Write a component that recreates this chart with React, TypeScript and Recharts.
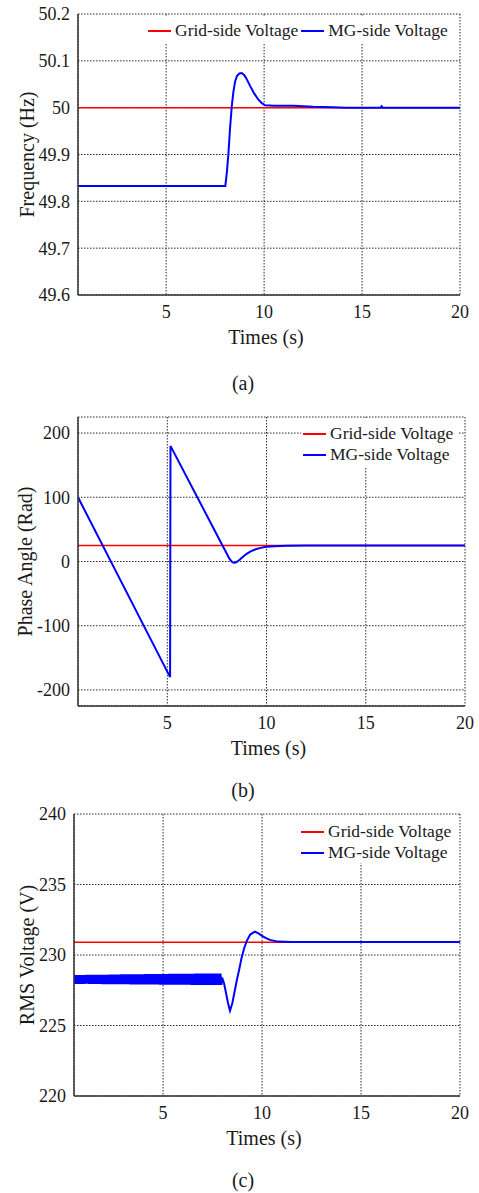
import React from 'react';
import { LineChart, Line, XAxis, YAxis, CartesianGrid, Legend, Label } from 'recharts';

const FONT = '"Liberation Serif", "Times New Roman", serif';
const INK = '#1a1a1a';

// shared time axis
const timeDomain = [0.5, 20];
const timeTicks = [5, 10, 15, 20];
const gridTime = [0.5, 20];

// (a) frequency
const freqTicks = [49.6, 49.7, 49.8, 49.9, 50, 50.1, 50.2];
const freqGrid = [50, 50];
const freqTime = [0.5, 8.02, 8.1, 8.18, 8.26, 8.35, 8.43, 8.52, 8.62, 8.74, 8.86, 8.98, 9.1, 9.29, 9.5, 9.71, 9.9, 10.05, 10.5, 11.5, 12.5, 13.5, 14.2, 15.95, 16.0, 16.05, 20];
const freqMG = [49.833, 49.833, 49.862, 49.903, 49.955, 50.003, 50.033, 50.056, 50.068, 50.073, 50.074, 50.07, 50.062, 50.046, 50.03, 50.017, 50.009, 50.005, 50.004, 50.004, 50.002, 50.001, 50, 50, 50.003, 50, 50];

// (b) phase angle
const angleTicks = [-200, -100, 0, 100, 200];
const angleGrid = [25, 25];
const angleTime = [0.5, 5.14, 5.16, 7.78, 8.0, 8.1, 8.2, 8.28, 8.35, 8.45, 8.6, 8.8, 9.0, 9.2, 9.45, 9.7, 10.0, 10.4, 11, 12, 13, 20];
const angleMG = [100, -180, 180, 25, 12, 6, 1.5, -1, -2, -1.5, 1.5, 7, 12, 15.8, 19, 21.2, 22.8, 23.8, 24.4, 24.8, 25, 25];

// (c) rms voltage
const rmsTicks = [220, 225, 230, 235, 240];
const rmsGrid = [230.9, 230.9];
const rippleTime = [
  0.5, 0.6, 0.7, 0.8, 0.9, 1.0, 1.1, 1.2, 1.3, 1.4, 1.5, 1.6, 1.7, 1.8, 1.9,
  2.0, 2.1, 2.2, 2.3, 2.4, 2.5, 2.6, 2.7, 2.8, 2.9, 3.0, 3.1, 3.2, 3.3, 3.4,
  3.5, 3.6, 3.7, 3.8, 3.9, 4.0, 4.1, 4.2, 4.3, 4.4, 4.5, 4.6, 4.7, 4.8, 4.9,
  5.0, 5.1, 5.2, 5.3, 5.4, 5.5, 5.6, 5.7, 5.8, 5.9, 6.0, 6.1, 6.2, 6.3, 6.4,
  6.5, 6.6, 6.7, 6.8, 6.9, 7.0, 7.1, 7.2, 7.3, 7.4, 7.5, 7.6, 7.7, 7.8, 7.9,
];
const rippleHigh = [
  228.58, 228.58, 228.58, 228.58, 228.58, 228.58, 228.59, 228.59, 228.59, 228.59, 228.59, 228.59, 228.6, 228.6, 228.6,
  228.6, 228.6, 228.6, 228.61, 228.61, 228.61, 228.61, 228.61, 228.61, 228.62, 228.62, 228.62, 228.62, 228.62, 228.62,
  228.63, 228.63, 228.63, 228.63, 228.63, 228.63, 228.64, 228.64, 228.64, 228.64, 228.64, 228.64, 228.65, 228.65, 228.65,
  228.65, 228.65, 228.65, 228.66, 228.66, 228.66, 228.66, 228.66, 228.66, 228.67, 228.67, 228.67, 228.67, 228.67, 228.67,
  228.67, 228.68, 228.68, 228.68, 228.68, 228.68, 228.68, 228.68, 228.69, 228.69, 228.69, 228.69, 228.69, 228.69, 228.69,
];
const rippleLow = [
  227.96, 227.96, 227.96, 227.96, 227.96, 227.96, 227.96, 227.95, 227.95, 227.95, 227.95, 227.95, 227.95, 227.95, 227.94,
  227.94, 227.94, 227.94, 227.94, 227.94, 227.94, 227.93, 227.93, 227.93, 227.93, 227.93, 227.93, 227.93, 227.92, 227.92,
  227.92, 227.92, 227.92, 227.92, 227.92, 227.91, 227.91, 227.91, 227.91, 227.91, 227.91, 227.91, 227.91, 227.9, 227.9,
  227.9, 227.9, 227.9, 227.9, 227.9, 227.9, 227.89, 227.89, 227.89, 227.89, 227.89, 227.89, 227.89, 227.89, 227.88,
  227.88, 227.88, 227.88, 227.88, 227.88, 227.88, 227.88, 227.87, 227.87, 227.87, 227.87, 227.87, 227.87, 227.87, 227.87,
];
const rmsTime = [7.98, 8.08, 8.18, 8.28, 8.38, 8.5, 8.6, 8.72, 8.85, 8.97, 9.1, 9.23, 9.4, 9.64, 9.8, 9.98, 10.2, 10.4, 10.8, 11.5, 20];
const rmsMG = [228.4, 228.0, 227.3, 226.6, 226.05, 226.6, 227.3, 228.17, 229.0, 229.83, 230.5, 231.0, 231.45, 231.65, 231.55, 231.37, 231.2, 231.07, 230.95, 230.92, 230.92];

const toPoints = (ts: number[], vs: number[]) => ts.map((t, i) => ({ t, v: vs[i] }));

const ripplePoints = rippleTime.flatMap((t, i) => [
  { t, v: rippleHigh[i] },
  { t: t + 0.05, v: rippleLow[i] },
]);

const tickStyle = { fontFamily: FONT, fontSize: 18, fill: INK };

const LegendBox = ({ payload, rows, box }: any) => (
  <div
    style={{
      background: '#fff',
      display: 'flex',
      flexDirection: rows ? 'column' : 'row',
      alignItems: rows ? 'flex-start' : 'center',
      boxSizing: 'border-box',
      ...box,
    }}
  >
    {(payload || []).map((p: any) => (
      <div key={p.value} style={{ display: 'flex', alignItems: 'center', height: 21, marginRight: rows ? 0 : 3 }}>
        <svg width={23} height={4} style={{ display: 'block' }}>
          <line x1={0} x2={23} y1={2} y2={2} stroke={p.color} strokeWidth={2} />
        </svg>
        <span style={{ marginLeft: 4, fontFamily: FONT, fontSize: 17.5, color: INK, lineHeight: '21px', whiteSpace: 'nowrap' }}>
          {p.value}
        </span>
      </div>
    ))}
  </div>
);

const yTitle = (text: string, dx: number) => (props: any) => {
  const { x, y, height } = props.viewBox;
  const cx = x + dx;
  const cy = y + height / 2;
  return (
    <text x={cx} y={cy} transform={`rotate(-90 ${cx} ${cy})`} textAnchor="middle" dominantBaseline="central"
      fontFamily={FONT} fontSize={20} fill={INK}>
      {text}
    </text>
  );
};

const xTitle = (props: any) => {
  const { x, y, width } = props.viewBox;
  return (
    <text x={x + width / 2 - 3} y={y + 42} textAnchor="middle" dominantBaseline="central"
      fontFamily={FONT} fontSize={20} fill={INK}>
      Times (s)
    </text>
  );
};

interface PanelProps {
  top: number;
  height: number;
  margin: { top: number; right: number; bottom: number; left: number };
  yWidth: number;
  yDomain: number[];
  yTicks: number[];
  yLabel: string;
  yLabelX: number;
  grid: { t: number; v: number }[];
  mg: { t: number; v: number }[];
  legendRows: boolean;
  legendPos: { top: number; left: number };
  legendBox: React.CSSProperties;
}

const Panel = (p: PanelProps) => (
  <div style={{ position: 'absolute', top: p.top, left: 0 }}>
    <LineChart width={479} height={p.height} margin={p.margin}>
      <CartesianGrid stroke="#2a2a2a" strokeDasharray="1.5 1.5" strokeWidth={1} />
      <XAxis dataKey="t" type="number" domain={timeDomain} ticks={timeTicks} allowDataOverflow
        height={30} tickLine={false} tickSize={6} tickMargin={4.5} tick={tickStyle}
        axisLine={{ stroke: '#333', strokeWidth: 1.5 }}>
        <Label content={xTitle} />
      </XAxis>
      <XAxis xAxisId="top" orientation="top" dataKey="t" type="number" domain={timeDomain} height={0}
        tick={false} tickLine={false} axisLine={{ stroke: '#333', strokeWidth: 1.5 }} />
      <YAxis type="number" domain={p.yDomain} ticks={p.yTicks} allowDataOverflow width={p.yWidth}
        tickLine={false} tickSize={6} tickMargin={2} tick={tickStyle}
        axisLine={{ stroke: '#333', strokeWidth: 1.5 }}>
        <Label content={yTitle(p.yLabel, p.yLabelX)} />
      </YAxis>
      <YAxis yAxisId="right" orientation="right" type="number" domain={p.yDomain} width={0}
        tick={false} tickLine={false} axisLine={{ stroke: '#333', strokeWidth: 1.5 }} />
      <Legend
        layout="horizontal"
        verticalAlign="middle"
        align="center"
        wrapperStyle={{ top: p.legendPos.top, left: p.legendPos.left, width: 'auto', height: 'auto' }}
        content={(props: any) => <LegendBox payload={props.payload} rows={p.legendRows} box={p.legendBox} />}
      />
      <Line data={p.grid} dataKey="v" name="Grid-side Voltage" stroke="#ff0000" strokeWidth={1.5}
        dot={false} isAnimationActive={false} />
      <Line data={p.mg} dataKey="v" name="MG-side Voltage" stroke="#0000ff" strokeWidth={2}
        dot={false} isAnimationActive={false} />
    </LineChart>
  </div>
);

const Caption = ({ text, y }: { text: string; y: number }) => (
  <div style={{ position: 'absolute', left: 0, width: 486, top: y - 12, lineHeight: '24px', textAlign: 'center',
    fontFamily: FONT, fontSize: 20, color: INK }}>
    {text}
  </div>
);

export default function App() {
  return (
    <div style={{ position: 'absolute', top: 0, left: 0, width: 479, height: 1193, background: '#fff' }}>
      <Panel
        top={0}
        height={400}
        margin={{ top: 14, right: 19, bottom: 75, left: 0 }}
        yWidth={78}
        yDomain={[49.6, 50.2]}
        yTicks={freqTicks}
        yLabel="Frequency (Hz)"
        yLabelX={27}
        grid={toPoints(gridTime, freqGrid)}
        mg={toPoints(freqTime, freqMG)}
        legendRows={false}
        legendPos={{ top: 17, left: 146 }}
        legendBox={{ width: 312, height: 27, paddingLeft: 2 }}
      />
      <Caption text="(a)" y={383} />
      <Panel
        top={400}
        height={400}
        margin={{ top: 17, right: 14, bottom: 64, left: 0 }}
        yWidth={78}
        yDomain={[-225, 225]}
        yTicks={angleTicks}
        yLabel="Phase Angle (Rad)"
        yLabelX={25}
        grid={toPoints(gridTime, angleGrid)}
        mg={toPoints(angleTime, angleMG)}
        legendRows={true}
        legendPos={{ top: 18, left: 301 }}
        legendBox={{ width: 157, height: 49, paddingLeft: 2, paddingTop: 5 }}
      />
      <Caption text="(b)" y={790} />
      <Panel
        top={800}
        height={393}
        margin={{ top: 14, right: 19, bottom: 67, left: 0 }}
        yWidth={74}
        yDomain={[220, 240]}
        yTicks={rmsTicks}
        yLabel="RMS Voltage (V)"
        yLabelX={27}
        grid={toPoints(gridTime, rmsGrid)}
        mg={[...ripplePoints, ...toPoints(rmsTime, rmsMG)]}
        legendRows={true}
        legendPos={{ top: 15, left: 298 }}
        legendBox={{ width: 160, height: 48, paddingLeft: 3, paddingTop: 6 }}
      />
      <Caption text="(c)" y={1180} />
    </div>
  );
}
